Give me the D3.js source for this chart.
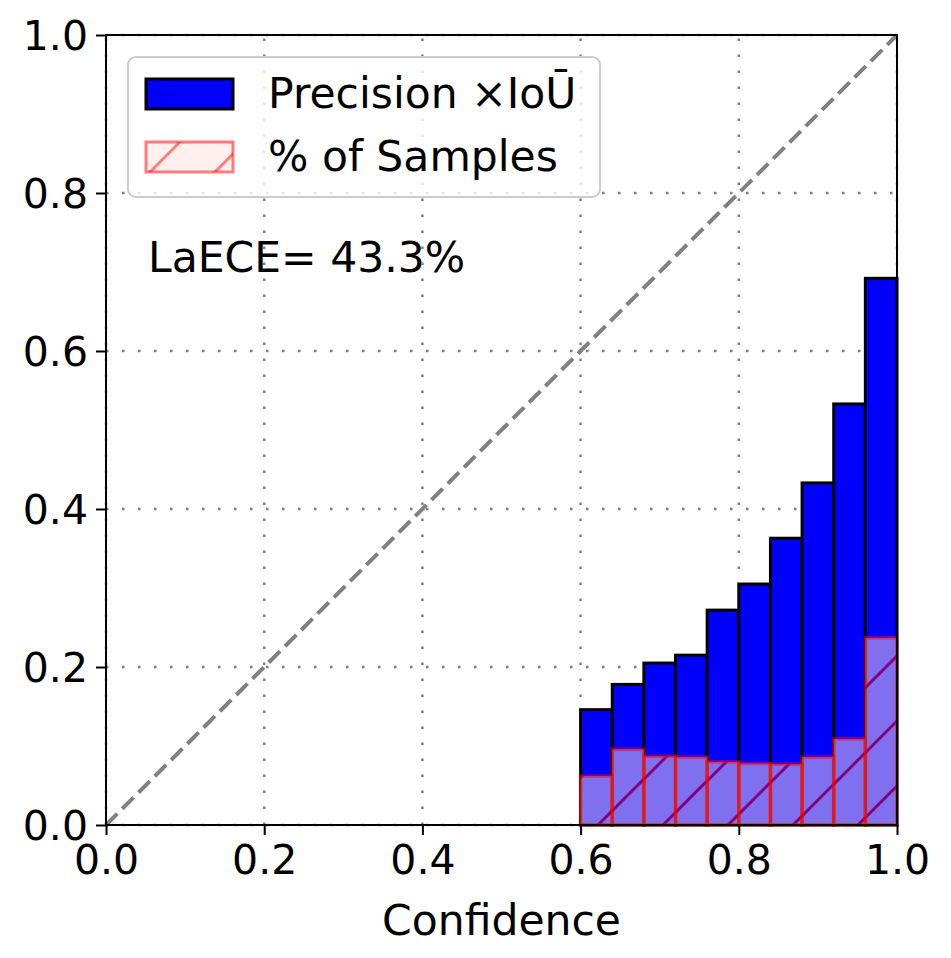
<!DOCTYPE html>
<html>
<head>
<meta charset="utf-8">
<script src="https://cdn.jsdelivr.net/npm/d3@7/dist/d3.min.js"></script>
<style>
  body { margin: 0; background: #fff; }
  text { font-family: "DejaVu Sans", sans-serif; }
</style>
</head>
<body>
<div id="chart"></div>
<script>
// ---- data ----
const binEdges = d3.range(0, 25).map(i => +(i * 0.04).toFixed(2)); // left edges of 25 bins
const binWidth = 0.04;
const precisionIoU = [0,0,0,0,0, 0,0,0,0,0, 0,0,0,0,0,
  0.146, 0.178, 0.205, 0.215, 0.272, 0.305, 0.363, 0.433, 0.533, 0.692];
const pctSamples = [0,0,0,0,0, 0,0,0,0,0, 0,0,0,0,0,
  0.062, 0.096, 0.087, 0.086, 0.080, 0.078, 0.077, 0.086, 0.109, 0.237];
const tickValues = [0.0, 0.2, 0.4, 0.6, 0.8, 1.0];
const legendLabels = ["Precision \u00d7IoU\u0304", "% of Samples"];
const annotation = "LaECE= 43.3%";
const xLabel = "Confidence";

// ---- layout ----
const W = 951, H = 958;
const margin = { left: 106, right: 54, top: 35, bottom: 133 };
const FS = 42.5, TFS = 41;
const svg = d3.select("#chart").append("svg").attr("width", W).attr("height", H);

const x = d3.scaleLinear().domain([0, 1]).range([margin.left, W - margin.right]);
const y = d3.scaleLinear().domain([0, 1]).range([H - margin.bottom, margin.top]);

const defs = svg.append("defs");
const edgeColor = "rgba(255,0,0,0.5)";
function makeHatch(id, offX) {
  const p = defs.append("pattern").attr("id", id)
    .attr("patternUnits", "userSpaceOnUse")
    .attr("width", 65).attr("height", 65).attr("x", offX).attr("y", 0);
  p.append("rect").attr("width", 65).attr("height", 65).attr("fill", "#ffe0e0");
  p.append("path")
    .attr("d", "M-10,75 L75,-10 M-10,10 L10,-10 M55,75 L75,55")
    .attr("stroke", "#ff0000").attr("stroke-width", 3).attr("fill", "none");
}
makeHatch("hatchBars", 58);
makeHatch("hatchLegend", 62);

// annotation text (drawn under grid)
svg.append("text").attr("x", 148).attr("y", 272)
  .attr("font-size", FS).attr("fill", "#000").text(annotation);

// grid
const grid = svg.append("g");
const gridStyle = sel => sel.attr("stroke", "#808080").attr("stroke-width", 2.5)
  .attr("stroke-dasharray", "2.5,13.5");
tickValues.forEach(t => {
  grid.append("line").attr("x1", x(t)).attr("x2", x(t)).attr("y1", y(0)).attr("y2", y(1)).call(gridStyle);
  grid.append("line").attr("x1", x(0)).attr("x2", x(1)).attr("y1", y(t)).attr("y2", y(t)).call(gridStyle);
});

// blue bars
svg.append("g").selectAll("rect").data(binEdges).join("rect")
  .attr("x", d => x(d))
  .attr("width", d => x(d + binWidth) - x(d))
  .attr("y", (d, i) => y(precisionIoU[i]))
  .attr("height", (d, i) => y(0) - y(precisionIoU[i]))
  .attr("fill", "#0000ff").attr("stroke", "#000").attr("stroke-width", 3);

// pink bars (hatched fill at alpha 0.5 + edge)
const pg = svg.append("g");
pg.selectAll("rect.h").data(binEdges).join("rect").attr("class", "h")
  .attr("x", d => x(d))
  .attr("width", d => x(d + binWidth) - x(d))
  .attr("y", (d, i) => y(pctSamples[i]))
  .attr("height", (d, i) => y(0) - y(pctSamples[i]))
  .attr("fill", "url(#hatchBars)").attr("fill-opacity", 0.5);
pg.selectAll("rect.e").data(binEdges).join("rect").attr("class", "e")
  .attr("x", d => x(d))
  .attr("width", d => x(d + binWidth) - x(d))
  .attr("y", (d, i) => y(pctSamples[i]))
  .attr("height", (d, i) => y(0) - y(pctSamples[i]))
  .attr("fill", "none").attr("stroke", edgeColor).attr("stroke-width", 3.5);

// diagonal
svg.append("line").attr("x1", x(0)).attr("y1", y(0)).attr("x2", x(1)).attr("y2", y(1))
  .attr("stroke", "#808080").attr("stroke-width", 4).attr("stroke-dasharray", "16,7");

// axes
const xAxis = d3.axisBottom(x).tickValues(tickValues).tickFormat(d3.format(".1f")).tickSize(10).tickPadding(8);
const yAxis = d3.axisLeft(y).tickValues(tickValues).tickFormat(d3.format(".1f")).tickSize(10).tickPadding(8);
const gx = svg.append("g").attr("transform", `translate(0,${y(0)})`).call(xAxis);
const gy = svg.append("g").attr("transform", `translate(${x(0)},0)`).call(yAxis);
[gx, gy].forEach(g => {
  g.select(".domain").remove();
  g.selectAll(".tick line").attr("stroke", "#000").attr("stroke-width", 2);
  g.selectAll(".tick text").attr("font-size", TFS).attr("fill", "#000")
    .attr("font-family", "DejaVu Sans, sans-serif");
});
gx.selectAll(".tick text").attr("dy", "0.76em");
gy.selectAll(".tick text").attr("dy", "0.36em");

// frame
svg.append("rect").attr("x", x(0)).attr("y", y(1))
  .attr("width", x(1) - x(0)).attr("height", y(0) - y(1))
  .attr("fill", "none").attr("stroke", "#000").attr("stroke-width", 2);

// x label
svg.append("text").attr("x", (x(0) + x(1)) / 2).attr("y", 935)
  .attr("text-anchor", "middle").attr("font-size", FS).text(xLabel);

// legend
const lg = svg.append("g");
lg.append("rect").attr("x", 128).attr("y", 57).attr("width", 472).attr("height", 140)
  .attr("rx", 8).attr("fill", "rgba(255,255,255,0.8)").attr("stroke", "#cccccc").attr("stroke-width", 2);
lg.append("rect").attr("x", 146).attr("y", 79).attr("width", 87).attr("height", 30)
  .attr("fill", "#0000ff").attr("stroke", "#000").attr("stroke-width", 3);
lg.append("rect").attr("x", 146).attr("y", 142).attr("width", 87).attr("height", 30)
  .attr("fill", "url(#hatchLegend)").attr("fill-opacity", 0.5);
lg.append("rect").attr("x", 146).attr("y", 142).attr("width", 87).attr("height", 30)
  .attr("fill", "none").attr("stroke", edgeColor).attr("stroke-width", 3);
lg.append("text").attr("x", 268).attr("y", 108).attr("font-size", FS).text(legendLabels[0]);
lg.append("text").attr("x", 268).attr("y", 171).attr("font-size", FS).text(legendLabels[1]);
</script>
</body>
</html>
